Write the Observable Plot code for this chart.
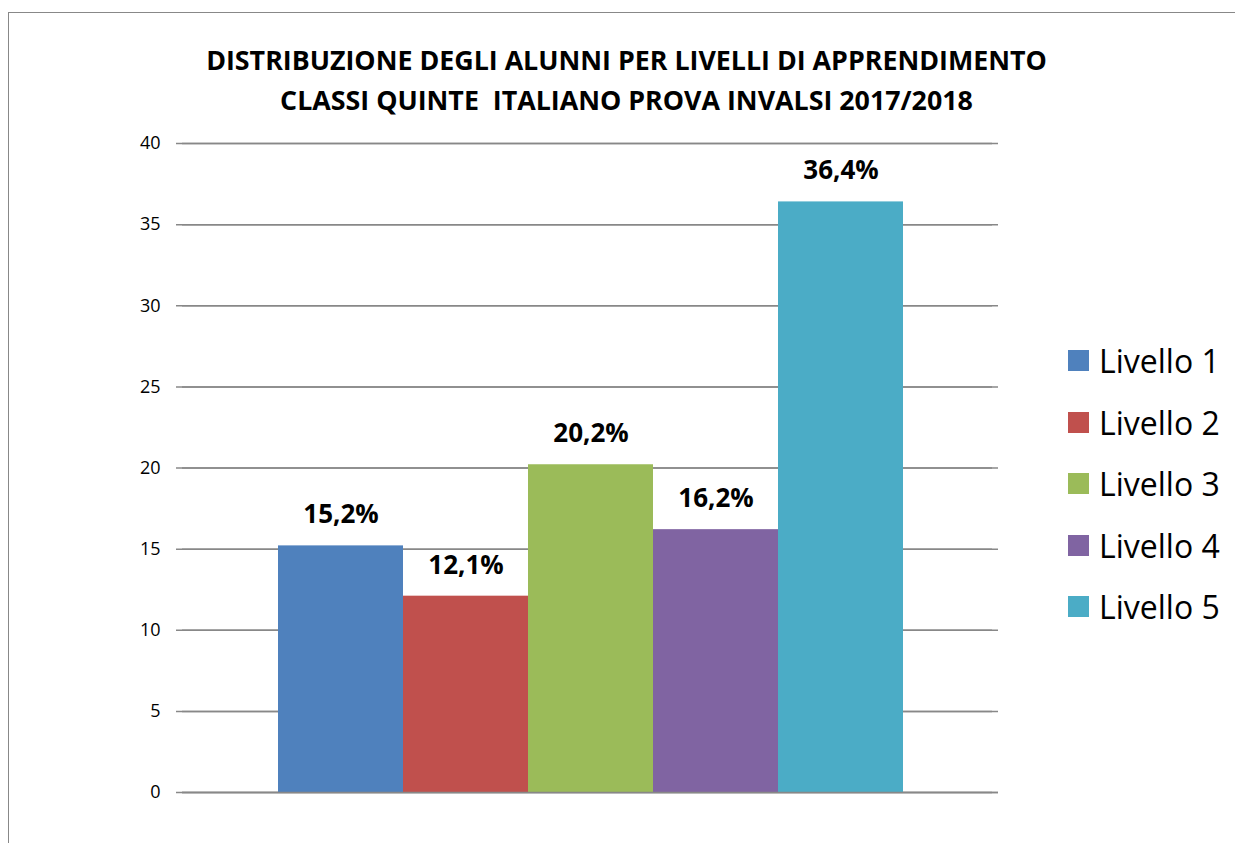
<!DOCTYPE html>
<html>
<head>
<meta charset="utf-8">
<script src="https://cdn.jsdelivr.net/npm/d3@7"></script>
<script src="https://cdn.jsdelivr.net/npm/@observablehq/plot@0.6"></script>
<style>
  html, body { margin: 0; padding: 0; background: #fff; overflow: hidden; }
  #wrap { position: relative; width: 1235px; height: 843px; font-family: "Open Sans", "DejaVu Sans", sans-serif; }
  #frame { position: absolute; left: 8px; top: 12px; width: 1240px; height: 850px; border: 1.5px solid #888; box-sizing: border-box; }
  #title { position: absolute; left: 0; width: 1253px; top: 40px; text-align: center; font-weight: 700; font-size: 26.8px; line-height: 40px; color: #000; white-space: pre; }
  #legend { position: absolute; left: 1068px; top: 330px; }
  .li { display: flex; align-items: center; height: 61.5px; font-size: 32px; color: #000; }
  .sw { width: 21px; height: 21px; margin-right: 10px; }
  #chart { position: absolute; left: 0; top: 0; }
</style>
</head>
<body>
<div id="wrap">
  <div id="frame"></div>
  <div id="chart"></div>
  <div id="title"></div>
  <div id="legend"></div>
</div>
<script>
const titleLines = ["DISTRIBUZIONE DEGLI ALUNNI PER LIVELLI DI APPRENDIMENTO", "CLASSI QUINTE  ITALIANO PROVA INVALSI 2017/2018"];
const categories = ["Livello 1", "Livello 2", "Livello 3", "Livello 4", "Livello 5"];
const values = [15.2, 12.1, 20.2, 16.2, 36.4];
const labels = ["15,2%", "12,1%", "20,2%", "16,2%", "36,4%"];
const colors = ["#4F81BD", "#C0504D", "#9BBB59", "#8064A2", "#4BACC6"];
const yTicks = [0, 5, 10, 15, 20, 25, 30, 35, 40];

const data = categories.map((c, i) => ({cat: c, value: values[i], label: labels[i]}));

const chart = Plot.plot({
  width: 1235,
  height: 843,
  marginTop: 143,
  marginBottom: 51,
  marginLeft: 182,
  marginRight: 237,
  style: {fontFamily: "'Open Sans', sans-serif", fontSize: "18px", background: "transparent", color: "#000"},
  x: {domain: categories, paddingInner: 0, paddingOuter: 0.75, axis: null},
  y: {domain: [0, 40], ticks: yTicks, label: null, axis: null},
  color: {domain: categories, range: colors},
  marks: [
    Plot.gridY(yTicks, {stroke: "#888", strokeOpacity: 1, strokeWidth: 1.5}),
    Plot.tickY(yTicks, {y: d => d, frameAnchor: "left", dx: -6, stroke: "#888", strokeWidth: 1.5, inset: 0, x: null}),
    Plot.text(yTicks, {y: d => d, text: d => String(d), frameAnchor: "left", dx: -22, textAnchor: "end", fontSize: 18, fill: "#000"}),
    Plot.ruleX([0], {x: () => null, frameAnchor: "left", stroke: "#888", strokeWidth: 2}),
    Plot.barY(data, {x: "cat", y: "value", fill: "cat", inset: 0}),
    Plot.ruleY([0], {stroke: "#888", strokeWidth: 1.5}),
    Plot.text(data, {x: "cat", y: "value", text: "label", dy: -31, fontSize: 26, fontWeight: "bold", fill: "#000"})
  ]
});
document.getElementById("chart").appendChild(chart);

document.getElementById("title").textContent = titleLines.join("\n");
const legend = document.getElementById("legend");
categories.forEach((c, i) => {
  const row = document.createElement("div");
  row.className = "li";
  const sw = document.createElement("div");
  sw.className = "sw";
  sw.style.background = colors[i];
  const t = document.createElement("span");
  t.textContent = c;
  row.appendChild(sw);
  row.appendChild(t);
  legend.appendChild(row);
});
</script>
</body>
</html>
